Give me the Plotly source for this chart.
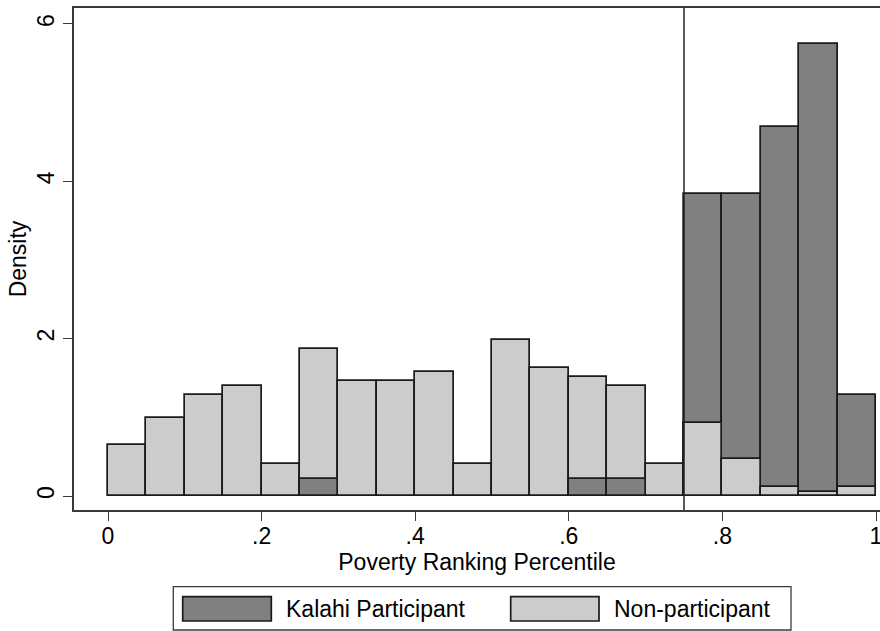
import plotly.graph_objects as go

# ---- data (density per 0.05-wide bin) ----
bin_left = [0.00, 0.05, 0.10, 0.15, 0.20, 0.25, 0.30, 0.35, 0.40, 0.45,
            0.50, 0.55, 0.60, 0.65, 0.70, 0.75, 0.80, 0.85, 0.90, 0.95]
bin_width = 0.05
non_participant = [0.648, 0.996, 1.28, 1.394, 0.407, 1.865, 1.458, 1.458, 1.576, 0.407,
                   1.983, 1.623, 1.508, 1.394, 0.407, 0.924, 0.466, 0.11, 0.055, 0.11]
kalahi = [0, 0, 0, 0, 0, 0.212, 0, 0, 0, 0,
          0, 0, 0.212, 0.212, 0, 3.835, 3.835, 4.687, 5.75, 1.28]
cutoff = 0.75
x_ticks = [0, 0.2, 0.4, 0.6, 0.8, 1.0]
x_ticklabels = ["0", ".2", ".4", ".6", ".8", "1"]
y_ticks = [0, 2, 4, 6]

DARK = "#808080"
LIGHT = "#cccccc"
EDGE = "#1a1a1a"
FONT = "Liberation Sans, Arial, Helvetica, sans-serif"
FS = 23

centers = [b + bin_width / 2 for b in bin_left]

fig = go.Figure()
# non-participant (full)
fig.add_trace(go.Bar(
    x=centers, y=[v if v > 0 else None for v in non_participant], width=bin_width,
    marker=dict(color=LIGHT, line=dict(color=EDGE, width=1.7)),
    name="Non-participant", showlegend=False, hoverinfo="x+y"))
# Kalahi participant
fig.add_trace(go.Bar(
    x=centers, y=[v if v > 0 else None for v in kalahi], width=bin_width,
    marker=dict(color=DARK, line=dict(color=EDGE, width=1.7)),
    name="Kalahi Participant", showlegend=False, hoverinfo="x+y"))
# non-participant again where it is the shorter bar (drawn in front)
fig.add_trace(go.Bar(
    x=centers, y=[n if (n < k and n > 0) else None for n, k in zip(non_participant, kalahi)],
    width=bin_width,
    marker=dict(color=LIGHT, line=dict(color=EDGE, width=1.7)),
    name="Non-participant", showlegend=False, hoverinfo="x+y"))

W, H = 880, 631
L, R, T, B = 74, 880, 8, 510  # plot area in pixels


def px(x):
    return (x - L) / (R - L)


def py(y):
    return (B - y) / (B - T)


shapes = [
    dict(type="line", xref="x", yref="paper", x0=cutoff, x1=cutoff, y0=0, y1=1,
         line=dict(color="#222222", width=1.5), layer="above"),
    # legend box
    dict(type="rect", xref="paper", yref="paper", x0=px(173.3), x1=px(791),
         y0=py(586.7), y1=py(630), line=dict(color="#3a3a3a", width=1.3),
         fillcolor="white"),
    dict(type="rect", xref="paper", yref="paper", x0=px(182.7), x1=px(271.3),
         y0=py(596.7), y1=py(621), line=dict(color=EDGE, width=1.7), fillcolor=DARK),
    dict(type="rect", xref="paper", yref="paper", x0=px(510.7), x1=px(599),
         y0=py(596.7), y1=py(621), line=dict(color=EDGE, width=1.7), fillcolor=LIGHT),
]
annotations = [
    dict(text="Kalahi Participant", xref="paper", yref="paper", x=px(284), y=py(609),
         xanchor="left", yanchor="middle", showarrow=False,
         font=dict(family=FONT, size=FS, color="black")),
    dict(text="Non-participant", xref="paper", yref="paper", x=px(612), y=py(609),
         xanchor="left", yanchor="middle", showarrow=False,
         font=dict(family=FONT, size=FS, color="black")),
]

fig.update_layout(
    width=W, height=H,
    margin=dict(l=L, r=W - R, t=T, b=H - B, pad=0),
    barmode="overlay", bargap=0,
    paper_bgcolor="white", plot_bgcolor="white",
    font=dict(family=FONT, size=FS, color="black"),
    shapes=shapes, annotations=annotations, showlegend=False,
    xaxis=dict(range=[(L - 108) / 768, (R - 108) / 768],
               tickvals=x_ticks, ticktext=x_ticklabels, automargin=False,
               ticklabeloverflow="allow",
               ticks="outside", ticklen=9, tickwidth=1.3, tickcolor="#3a3a3a",
               ticklabelstandoff=-4,
               showline=True, linecolor="#3a3a3a", linewidth=1.5, mirror=True,
               showgrid=False, zeroline=False,
               title=dict(text="Poverty Ranking Percentile", standoff=6,
                          font=dict(size=FS)),
               tickfont=dict(size=FS)),
    yaxis=dict(range=[(496 - B) / 78.67, (496 - T) / 78.67],
               tickvals=y_ticks, tickangle=-90, automargin=False,
               ticklabeloverflow="allow",
               ticks="outside", ticklen=9, tickwidth=1.3, tickcolor="#3a3a3a",
               showline=True, linecolor="#3a3a3a", linewidth=1.5, mirror=False,
               showgrid=False, zeroline=False,
               title=dict(text="Density", standoff=0, font=dict(size=FS)),
               tickfont=dict(size=FS)),
)

fig.write_html(
    "out.html",
    config={"displayModeBar": False},
    post_script="document.body.style.margin='0';document.body.style.overflow='hidden';",
)
